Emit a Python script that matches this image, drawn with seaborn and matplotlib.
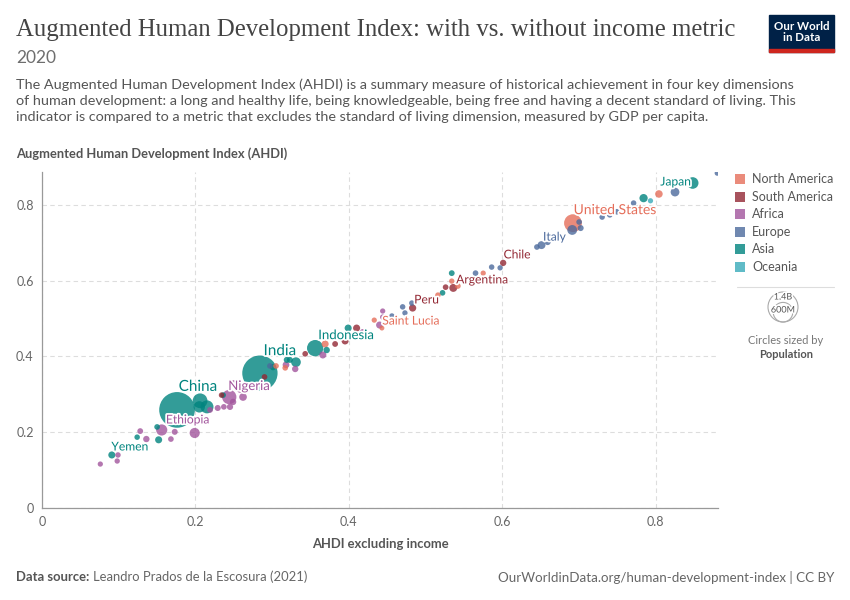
import matplotlib
matplotlib.use("Agg")
import matplotlib.pyplot as plt
import matplotlib.patheffects as pe
from matplotlib.patches import Rectangle, Circle
from matplotlib.lines import Line2D
import pandas as pd
import seaborn as sns

# AHDI excluding income (x), AHDI (y), continent, population (millions), 2020
x_vals = [
    # Africa
    0.076, 0.099, 0.098, 0.128, 0.136, 0.156, 0.168, 0.173, 0.199, 0.219, 0.229, 0.237,
    0.245, 0.249, 0.244, 0.262, 0.250, 0.258, 0.318, 0.330, 0.366, 0.418, 0.440, 0.444, 0.444,
    # Asia
    0.091, 0.124, 0.150, 0.152, 0.176, 0.206, 0.215, 0.205, 0.236, 0.284, 0.301, 0.319,
    0.323, 0.331, 0.356, 0.371, 0.399, 0.522, 0.534, 0.784, 0.848,
    # Europe
    0.297, 0.456, 0.470, 0.473, 0.482, 0.565, 0.586, 0.597, 0.645, 0.651, 0.659, 0.691,
    0.700, 0.702, 0.730, 0.740, 0.749, 0.771, 0.825, 0.880,
    # North America
    0.305, 0.317, 0.369, 0.433, 0.443, 0.516, 0.534, 0.542, 0.575, 0.692, 0.804,
    # South America
    0.234, 0.290, 0.343, 0.382, 0.395, 0.410, 0.483, 0.526, 0.536, 0.601,
    # Oceania
    0.793,
]
y_vals = [
    0.116, 0.140, 0.124, 0.203, 0.182, 0.206, 0.182, 0.201, 0.198, 0.259, 0.264, 0.267,
    0.267, 0.280, 0.293, 0.293, 0.330, 0.312, 0.378, 0.367, 0.404, 0.465, 0.483, 0.504, 0.520,
    0.140, 0.187, 0.214, 0.180, 0.259, 0.283, 0.267, 0.267, 0.298, 0.356, 0.372, 0.391,
    0.391, 0.385, 0.422, 0.417, 0.475, 0.568, 0.620, 0.818, 0.858,
    0.375, 0.507, 0.531, 0.515, 0.541, 0.620, 0.636, 0.634, 0.689, 0.694, 0.702, 0.734,
    0.755, 0.739, 0.768, 0.774, 0.782, 0.805, 0.834, 0.884,
    0.375, 0.370, 0.433, 0.496, 0.475, 0.562, 0.599, 0.586, 0.620, 0.752, 0.829,
    0.298, 0.346, 0.407, 0.433, 0.441, 0.475, 0.528, 0.583, 0.581, 0.647,
    0.811,
]
continents = (["Africa"] * 25 + ["Asia"] * 21 + ["Europe"] * 20
              + ["North America"] * 11 + ["South America"] * 10 + ["Oceania"])
population = [
    5, 8, 6, 12, 20, 115, 10, 14, 90, 12, 15, 10, 18, 20, 206, 40, 10, 14, 25, 20, 30, 10,
    30, 6, 5,
    30, 8, 10, 30, 1410, 220, 165, 120, 10, 1380, 20, 15, 15, 80, 274, 20, 30, 10, 12, 51, 126,
    10, 6, 8, 6, 8, 10, 8, 6, 10, 45, 15, 83,
    10, 15, 8, 10, 10, 8, 60, 5,
    10, 10, 30, 5, 1, 8, 6, 10, 5, 331, 38,
    8, 10, 10, 12, 30, 30, 33, 10, 45, 19,
    5,
]
names = [""] * len(x_vals)
# index: (label, dx px, dy px, font size)
labels = {
    5: ("Ethiopia", 26, 10, 8.7), 14: ("Nigeria", 20, 11, 9.5), 25: ("Yemen", 18, 8, 8.7),
    29: ("China", 21, 23, 11), 34: ("India", 20, 22, 11), 39: ("Indonesia", 31, 13, 9.5),
    55: ("Italy", 13, 8, 8.7), 45: ("Japan", -17, 1, 8.7), 70: ("Saint Lucia", 29, 7, 8.7),
    75: ("United States", 42, 13, 10), 83: ("Peru", 14, 8, 8.7), 85: ("Argentina", 29, 8, 8.7),
    86: ("Chile", 14, 8, 8.7),
}
for i, (n, *_rest) in labels.items():
    names[i] = n

colors = {
    "North America": "#E56E5A", "South America": "#932834", "Africa": "#A2559C",
    "Europe": "#4C6A9C", "Asia": "#00847E", "Oceania": "#38AABA",
}
legend_order = ["North America", "South America", "Africa", "Europe", "Asia", "Oceania"]

df = pd.DataFrame({"x": x_vals, "y": y_vals, "continent": continents,
                   "pop": population, "name": names})
df = df.sort_values("pop", ascending=False)

sns.set_theme(style="white")
plt.rcParams["font.family"] = ["Lato", "DejaVu Sans"]

fig = plt.figure(figsize=(8.5, 6), dpi=100)
ax = fig.add_axes([42 / 850, 1 - 508 / 600, (718 - 42) / 850, (508 - 172) / 600])

sns.scatterplot(data=df, x="x", y="y", hue="continent", palette=colors,
                size="pop", sizes=(12, 660), size_norm=(0, 1410),
                alpha=0.8, linewidth=0, legend=False, ax=ax)

# country labels
for i, (text, dx, dy, fs) in labels.items():
    ax.annotate(text, (x_vals[i], y_vals[i]), xytext=(dx * 0.72, dy * 0.72),
                textcoords="offset points", ha="center", va="center",
                fontsize=fs, color=colors[continents[i]],
                path_effects=[pe.withStroke(linewidth=2.5, foreground="white")])

ax.set_xlim(0, 0.881)
ax.set_ylim(0, 0.887)
ticks = [0, 0.2, 0.4, 0.6, 0.8]
tick_labels = ["0", "0.2", "0.4", "0.6", "0.8"]
ax.set_xticks(ticks, tick_labels)
ax.set_yticks(ticks, tick_labels)
ax.tick_params(axis="both", length=0, labelsize=9, labelcolor="#666666", pad=6)
ax.grid(True, color="#dddddd", linestyle=(0, (4, 3)), linewidth=0.8)
ax.set_axisbelow(True)
for side in ["top", "right"]:
    ax.spines[side].set_visible(False)
for side in ["left", "bottom"]:
    ax.spines[side].set_color("#999999")
    ax.spines[side].set_linewidth(0.9)
ax.set_xlabel("")
ax.set_ylabel("")

# titles and notes
fig.text(16 / 850, 1 - 30 / 600, "Augmented Human Development Index: with vs. without income metric",
         fontsize=17.8, family=["Liberation Serif", "DejaVu Serif"], color="#444444", va="center")
fig.text(16 / 850, 1 - 58 / 600, "2020", fontsize=12.5, color="#6e6e6e", va="center")
desc = ("The Augmented Human Development Index (AHDI) is a summary measure of historical achievement in four key dimensions\n"
        "of human development: a long and healthy life, being knowledgeable, being free and having a decent standard of living. This\n"
        "indicator is compared to a metric that excludes the standard of living dimension, measured by GDP per capita.")
fig.text(16 / 850, 1 - 78 / 600, desc, fontsize=10.35, color="#555555", va="top", linespacing=1.4)
fig.text(16 / 850, 1 - 154 / 600, "Augmented Human Development Index (AHDI)", fontsize=9.3,
         color="#555555", weight="bold", va="center")
fig.text(380 / 850, 1 - 544 / 600, "AHDI excluding income", fontsize=9.4,
         color="#555555", weight="bold", ha="center", va="center")
fig.text(16 / 850, 1 - 577 / 600, "Data source:", fontsize=9.4, color="#555555", weight="bold", va="center")
fig.text(93 / 850, 1 - 577 / 600, "Leandro Prados de la Escosura (2021)", fontsize=9.4, color="#666666", va="center")
fig.text(834 / 850, 1 - 577 / 600, "OurWorldinData.org/human-development-index | CC BY",
         fontsize=9.6, color="#666666", ha="right", va="center")

# logo
fig.add_artist(Rectangle((769 / 850, 1 - 52 / 600), 65 / 850, 37 / 600,
                         transform=fig.transFigure, color="#002147"))
fig.add_artist(Rectangle((769 / 850, 1 - 52 / 600), 65 / 850, 3 / 600,
                         transform=fig.transFigure, color="#ce261e"))
fig.text(801.5 / 850, 1 - 32 / 600, "Our World\nin Data", fontsize=8.3, color="white",
         ha="center", va="center", weight="bold", linespacing=1.1)

# continent legend
for k, cont in enumerate(legend_order):
    yc = 179 + k * 17.6
    fig.add_artist(Rectangle((735 / 850, 1 - (yc + 5) / 600), 10 / 850, 10 / 600,
                             transform=fig.transFigure, color=colors[cont], alpha=0.8, lw=0))
    fig.text(752 / 850, 1 - yc / 600, cont, fontsize=9, color="#555555", va="center")

fig.add_artist(Line2D([737 / 850, 834 / 850], [1 - 287 / 600, 1 - 287 / 600],
                      transform=fig.transFigure, color="#dddddd", lw=0.8))

# size legend
for r, lab, ty in [(15, "1.4B", 297), (9.8, "600M", 310)]:
    fig.add_artist(Circle((783, 600 - 322 + r), r, transform=None, fill=False,
                          edgecolor="#aaaaaa", lw=0.8))
    fig.text(783 / 850, 1 - ty / 600, lab, fontsize=6.5, color="#555555", ha="center", va="center",
             path_effects=[pe.withStroke(linewidth=2, foreground="white")])
fig.text(786 / 850, 1 - 341 / 600, "Circles sized by", fontsize=8, color="#777777", ha="center", va="center")
fig.text(786 / 850, 1 - 355 / 600, "Population", fontsize=8, color="#555555", ha="center",
         va="center", weight="bold")

fig.savefig("out.png", dpi=100)
